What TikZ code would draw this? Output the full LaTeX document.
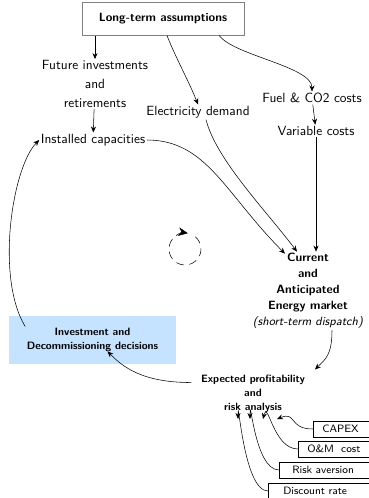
\documentclass[tikz,border=0pt]{standalone}
\usepackage{amsmath}
\usepackage{tikz}
\usetikzlibrary{arrows.meta}
\renewcommand{\familydefault}{\sfdefault}
\definecolor{decblue}{RGB}{197,226,255}

\begin{document}
\begin{tikzpicture}[x=0.75pt,y=-0.75pt,
	txt/.style={align=center, inner sep=1pt, font=\normalsize},
	bold/.style={align=center, inner sep=1pt, font=\footnotesize\bfseries},
	param/.style={draw, anchor=west, minimum height=12pt, inner ysep=1pt, font=\footnotesize, align=left},
	>={Stealth[length=4.5pt,width=3.8pt]}]
	\useasboundingbox (0,0) rectangle (368,498);
	% inputs
	\node[draw=gray, fill=white, minimum width=121.5pt, minimum height=24.5pt, font=\small\bfseries] (lta) at (163,19) {Long-term assumptions};
	\node[txt] (fut) at (95,84) {Future investments\\[2pt]and\\[2pt]retirements};
	\node[txt] (inst) at (93,140) {Installed capacities};
	\node[txt] (dem) at (198,112) {Electricity demand};
	\node[txt] (fuel) at (312,98) {Fuel \& CO2 costs};
	\node[txt] (var) at (316,131) {Variable costs};
	% market and decisions
	\node[bold, font=\small\bfseries] (mkt) at (308,291) {Current\\[1pt]and\\[1pt]Anticipated\\[1pt]Energy market\\[1pt]\textmd{\textit{(short-term dispatch)}}};
	\node[bold] (exp) at (253,394) {Expected profitability\\[1pt]and\\[1pt]risk analysis};
	\node[fill=decblue, minimum width=125pt, minimum height=36pt] (invbg) at (92.5,340) {};
	\node[bold] (inv) at (invbg) {Investment and\\[1pt]Decommissioning decisions};
	\foreach \y/\lx/\ofs/\name/\txt in {
		429/313/9/capex/CAPEX,
		449/298/9/om/O\&M~~cost,
		470/279/13/risk/Risk aversion,
		491/268/15/disc/Discount rate
	}{
		\node[param, inner xsep=\ofs*0.75pt, text width=(378-\lx-2*\ofs)*0.75pt] (\name) at (\lx,\y) {\txt};
	}
	\coordinate (loop) at (185,249);
	% arrows
	\draw[->] (lta.south -| fut) -- (fut);
	\draw[->] (fut) -- (inst);
	\draw[->] (lta.south) ++(4,0) .. controls +(10,25) and +(-10,-25) .. (dem.north);
	\draw[->] (lta.south east) ++(-25,0) .. controls +(15,20) and +(0,-25) .. (fuel.north);
	\draw[->] (fuel) -- (var);
	\draw[->] (var) -- (mkt.north -| var);
	\draw[->] (dem.south) ++(8,0) .. controls +(10,40) and +(-30,-40) .. ([shift={(-11,0)}]mkt.north);
	\draw[->] (inst.east) .. controls +(60,0) and +(-60,-60) .. ([shift={(-23,2)}]mkt.north);
	\draw[->] (mkt.south) ++(24,0) .. controls +(0,25) and +(10,-10) .. ([shift={(62,-4)}]exp.north);
	\draw[->] (exp.north west) ++(-8,9) .. controls +(-50,0) and +(15,15) .. ([shift={(15,-2)}]inv.south);
	\draw[->] (inv.north west) .. controls +(-30,-49) and +(-27,27) .. (inst.west);
	\draw[->] (capex.west) .. controls +(-25,0) and +(20,-8) .. ([shift={(24,25)}]exp.center);
	\draw[->] (om.west) .. controls +(-25,0) and +(5,-20) .. ([shift={(10,25)}]exp.center);
	\draw[->] (risk.west) .. controls +(-25,0) and +(0,-30) .. ([shift={(-3,25)}]exp.center);
	\draw[->] (disc.west) .. controls +(-25,0) and +(0,-30) .. ([shift={(-15,25)}]exp.center);
	\draw[dash pattern=on 6pt off 4pt, -{Stealth[length=7pt,width=6.5pt]}] (loop) ++(-410:16) arc (-410:-80:16);
\end{tikzpicture}
\end{document}
